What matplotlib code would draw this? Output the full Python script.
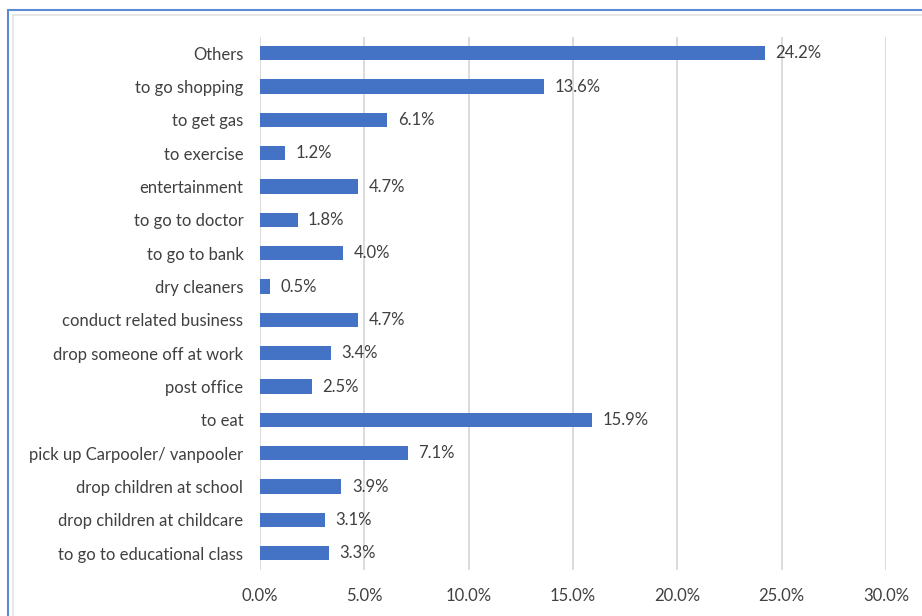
import matplotlib.pyplot as plt
from matplotlib.patches import Rectangle
from matplotlib.lines import Line2D

plt.rcParams['font.family'] = ['Lato', 'DejaVu Sans']

# Trip purposes, listed top to bottom
purposes = [
    'Others', 'to go shopping', 'to get gas', 'to exercise', 'entertainment',
    'to go to doctor', 'to go to bank', 'dry cleaners', 'conduct related business',
    'drop someone off at work', 'post office', 'to eat',
    'pick up Carpooler/ vanpooler', 'drop children at school',
    'drop children at childcare', 'to go to educational class',
]
shares = [24.2, 13.6, 6.1, 1.2, 4.7, 1.8, 4.0, 0.5, 4.7, 3.4, 2.5, 15.9, 7.1, 3.9, 3.1, 3.3]
x_ticks = [0, 5, 10, 15, 20, 25, 30]

fig = plt.figure(figsize=(9.22, 6.16), dpi=100)
ax = fig.add_axes([260 / 922, 1 - 570 / 616, 626 / 922, 533.5 / 616])

ypos = list(range(len(purposes)))
ax.barh(ypos, shares, height=0.43, color='#4472C4', zorder=3)
for y, v in zip(ypos, shares):
    ax.text(v + 0.5, y, f'{v:.1f}%', va='center', ha='left', fontsize=12, color='#404040')

ax.set_xlim(0, 30)
ax.set_ylim(len(purposes) - 0.5, -0.5)
ax.set_yticks(ypos)
ax.set_yticklabels(purposes, fontsize=12, color='#404040')
ax.set_xticks(x_ticks)
ax.set_xticklabels([f'{t:.1f}%' for t in x_ticks], fontsize=12, color='#404040')
ax.tick_params(axis='both', length=0)
ax.tick_params(axis='y', pad=12)
ax.tick_params(axis='x', pad=13)
ax.grid(axis='x', color='#d9d9d9', linewidth=1.3, zorder=0)
for s in ax.spines.values():
    s.set_visible(False)

# chart frame: blue outer border and faint inner line
fig.add_artist(Rectangle((8 / 922, -0.1), 1.1, 1 - 10 / 616 + 0.1, transform=fig.transFigure,
                         fill=False, edgecolor='#5B8BD3', linewidth=1.5))
fig.add_artist(Line2D([13 / 922, 13 / 922], [0, 1 - 15 / 616], transform=fig.transFigure,
                      color='#e3e3e3', linewidth=1.2))
fig.add_artist(Line2D([13 / 922, 1], [1 - 15 / 616, 1 - 15 / 616], transform=fig.transFigure,
                      color='#e3e3e3', linewidth=1.2))

fig.savefig('out.png', dpi=100)
